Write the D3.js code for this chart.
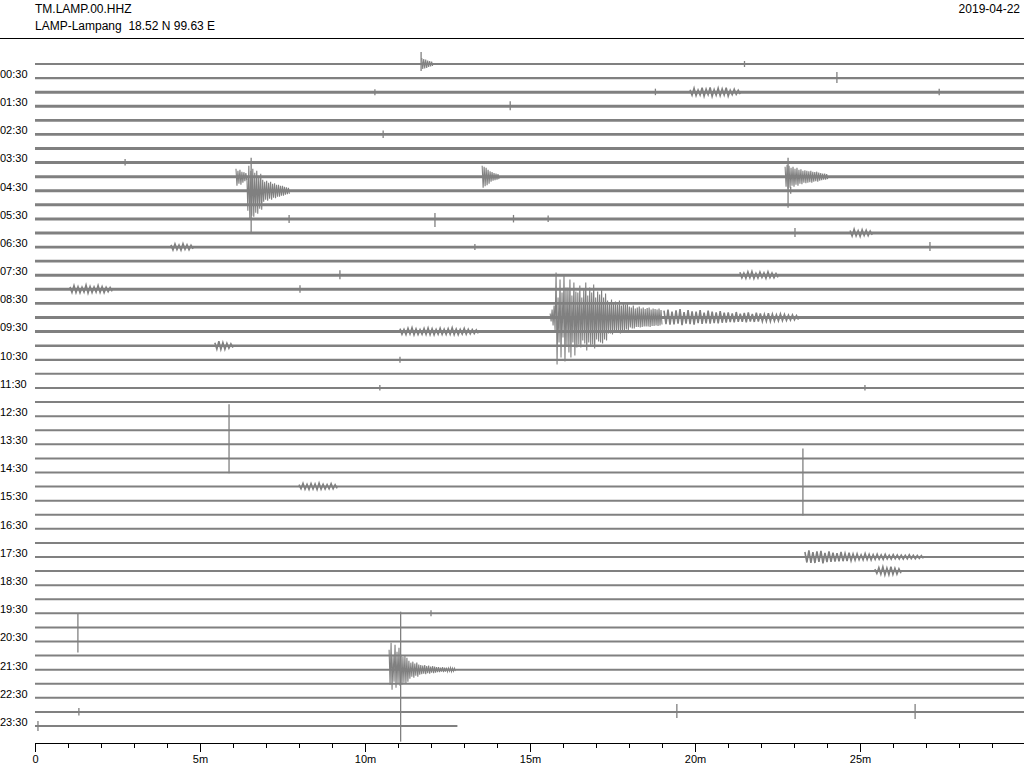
<!DOCTYPE html>
<html>
<head>
<meta charset="utf-8">
<script src="https://cdn.jsdelivr.net/npm/d3@7"></script>
<style>
  body { margin: 0; background: #fff; }
  text { font-family: "Liberation Sans", Arial, sans-serif; }
</style>
</head>
<body>
<div id="chart"></div>
<script>
// helicorder: one trace per 30 minutes, amplitudes in counts

var station = "TM.LAMP.00.HHZ",
    stationInfo = "LAMP-Lampang  18.52 N 99.63 E",
    day = "2019-04-22";

var rowLabels = ["00:30","01:30","02:30","03:30","04:30","05:30","06:30","07:30",
                 "08:30","09:30","10:30","11:30","12:30","13:30","14:30","15:30",
                 "16:30","17:30","18:30","19:30","20:30","21:30","22:30","23:30"];

var axisTicks = [0, 5, 10, 15, 20, 25];

// background noise level of each trace (half width, counts)
var baseNoise = [10,11,15,15,14,14,14,15,15,15,15,15,15,14,14,15,15,14,15,15,13,11,
                 10,10,10,10,10,10,10,10,10,10,10,10,10,10,10,10,10,10,10,10,10,10,10,10,10,10];

// the last trace stops here (minutes)
var lastTraceEnd = 12.8;

// single spikes: [row, minute, up, down]
var spikes = [
  [0, 11.70, 120, 70], [0, 21.50, 30, 30], [1, 24.30, 60, 50],
  [2, 10.30, 30, 30], [2, 18.80, 35, 30], [2, 27.40, 35, 30],
  [3, 14.40, 50, 40], [5, 10.55, 40, 35], [7, 2.73, 35, 30],
  [8, 22.82, 190, 310], [9, 6.55, 330, 420], [9, 22.90, 40, 30],
  [11, 7.70, 40, 40], [11, 12.12, 60, 80], [11, 14.50, 40, 35], [11, 15.55, 35, 30],
  [12, 23.03, 50, 40], [13, 13.33, 30, 30], [13, 27.12, 50, 40],
  [15, 9.24, 50, 40], [16, 8.03, 40, 35], [21, 11.06, 30, 30],
  [23, 10.45, 30, 25], [23, 25.15, 30, 25],
  [26, 5.88, 260, 430], [30, 23.27, 380, 290], [39, 12.00, 30, 30],
  [40, 1.30, 140, 250], [43, 11.08, 580, 720],
  [46, 1.33, 40, 35], [46, 19.45, 80, 60], [46, 26.67, 80, 70], [47, 0.09, 50, 50]
];

// bursts and earthquakes: start minute, sample step (s), peak up / down per sample
var bursts = [
  {row: 0, t0: 11.72, dt: 3.6, up: [60,50,45,35,30,25], dn: [50,45,40,30,25,20]},
  {row: 2, t0: 19.85, dt: 7.3, up: [25,40,22,45,30,48,26,40,33,45,20,30,18], dn: [30,35,28,40,25,42,30,35,28,40,25,22,20]},
  {row: 8, t0: 6.09, dt: 3.6, up: [80,60,70,50,45,35], dn: [90,70,80,60,45,35]},
  {row: 8, t0: 13.55, dt: 3.6, up: [110,100,90,70,55,45,35,30,25], dn: [110,95,85,70,50,40,35,30,25]},
  {row: 8, t0: 22.73, dt: 3.6, up: [100,120,110,90,100,80,90,70,75,60,65,60,55,60,50,45,50,40,35,30,30,25]},
  {row: 9, t0: 6.42, dt: 3.6,
   up: [150,250,200,220,180,200,150,170,110,90,100,80,90,70,75,60,60,50,50,40,35,30],
   dn: [200,280,250,260,220,230,180,190,110,90,100,80,90,70,75,60,60,50,50,40,35,30]},
  {row: 12, t0: 24.70, dt: 7.3, up: [25,38,22,32,28,20], dn: [30,28,35,24,26,18]},
  {row: 13, t0: 4.12, dt: 7.3, up: [22,32,20,34,24,18], dn: [28,24,30,22,26,18]},
  {row: 15, t0: 21.36, dt: 7.3, up: [30,22,34,38,20,32,24,34,22,18], dn: [26,30,24,32,28,22,30,24,26,20]},
  {row: 16, t0: 1.06, dt: 7.3, up: [25,38,26,22,42,28,24,38,26,20,18], dn: [30,32,34,28,36,32,28,30,32,22,20]},
  {row: 18, t0: 15.61, dt: 3.6,
   up: [40,80,120, 450,200,380,250,420,300, 300,380,220,350,260,
        250,320,200,280,350,220,300,250,330,200,260,230,280,200,240,
        170,150,180,140,160,130,170,120,150,130,140,
        110,100,120,90,100,110,90,100,85,95,100,80,90,85,80,90,75],
   dn: [40,80,130, 470,250,400,200,440,280, 350,400,250,380,300,
        270,300,230,260,330,250,280,270,310,220,240,250,260,220,230,
        160,160,170,150,150,140,160,130,140,120,130,
        100,110,110,95,95,100,95,90,90,90,95,85,85,80,85,80,70]},
  {row: 18, t0: 19.06, dt: 7.3,
   up: [70,80,60,72,85,55,74,62,58,75,50,68,60,52,64,48,
        52,42,55,38,46,52,36,48,40,32,44,34,28,36,30,24,26,20],
   dn: [65,72,68,60,75,62,66,70,55,64,58,60,56,58,52,50,
        46,48,44,42,48,40,44,40,38,36,38,34,32,30,28,26,22,20]},
  {row: 19, t0: 11.06, dt: 7.3, up: [30,22,34,38,26,20,32,36,28,22,34,24,30,38,26,22,32,24,20,18],
   dn: [26,30,24,32,30,26,28,30,32,26,28,28,26,30,30,24,26,22,20,18]},
  {row: 20, t0: 5.45, dt: 7.3, up: [30,44,32,24,18], dn: [34,38,36,26,20]},
  {row: 30, t0: 8.00, dt: 7.3, up: [20,32,22,30,26,34,22,20,28,18], dn: [22,26,28,24,30,26,24,22,22,18]},
  {row: 35, t0: 23.33, dt: 7.3,
   up: [50,65,48,55,62,40,56,44,38,50,36,42,30,32,22,34,26,24,28,20,26,18,24,20,18,16,22,16,15,14],
   dn: [55,58,60,48,64,50,48,46,44,42,40,38,32,28,28,26,30,24,22,24,20,22,18,20,20,18,16,18,14,14]},
  {row: 36, t0: 25.45, dt: 7.3, up: [20,34,42,30,44,28,22], dn: [24,30,38,36,34,30,22]},
  {row: 43, t0: 10.73, dt: 3.6,
   up: [200,270,150,250,180,220,150,130,140,120,90,70,80,60,70,
        50,45,40,45,35,40,30,35,30,25,25,20,25,20,20,15,20,15,15],
   dn: [150,200,120,180,140,160,150,130,140,120,90,70,80,60,70,
        50,45,40,45,35,40,30,35,30,25,25,20,25,20,20,15,20,15,15]}
];

var width = 1024,
    height = 768,
    traceColor = "#808080",
    nRows = baseNoise.length;

var svg = d3.select("#chart").append("svg")
    .attr("width", width)
    .attr("height", height);

// minutes within a trace -> x
var x = d3.scaleLinear().domain([0, 30]).range([35, 1025]);

// row index -> y of trace centre
var y = d3.scaleLinear().domain([0, nRows - 1]).range([64, 726]);

// counts -> pixels
var amp = d3.scaleLinear().domain([0, 100]).range([0, 10]);

// header
svg.append("text").attr("x", 35).attr("y", 13).style("font-size", "12px").text(station);
svg.append("text").attr("x", 35).attr("y", 30).style("font-size", "12px")
    .style("white-space", "pre").text(stationInfo);
svg.append("text").attr("x", 1020).attr("y", 13).attr("text-anchor", "end")
    .style("font-size", "12px").text(day);
svg.append("line").attr("x1", 0).attr("x2", width).attr("y1", 38.5).attr("y2", 38.5)
    .attr("stroke", "#000").attr("stroke-width", 1);

var traces = svg.append("g");

// noise bands
var band = d3.area()
    .x(function(d) { return x(d.t); })
    .y0(function(d) { return d.y + amp(d.a); })
    .y1(function(d) { return d.y - amp(d.a); });

baseNoise.forEach(function(a, i) {
  var end = i === nRows - 1 ? lastTraceEnd : 30;
  traces.append("path")
    .datum([{t: 0, y: y(i), a: a}, {t: end, y: y(i), a: a}])
    .attr("d", band)
    .attr("fill", traceColor);
});

// bursts drawn as a wiggle swinging between the up and down peaks
var wiggle = d3.line()
    .x(function(d) { return x(d.t); })
    .y(function(d) { return d.y; });

bursts.forEach(function(b) {
  var y0 = y(b.row), pts = [];
  b.up.forEach(function(u, k) {
    var dn = b.dn ? b.dn[k] : u;
    pts.push({t: b.t0 + k * b.dt / 60, y: y0 - amp(u)});
    pts.push({t: b.t0 + (k + 0.5) * b.dt / 60, y: y0 + amp(dn)});
  });
  traces.append("path")
    .datum(pts)
    .attr("d", wiggle)
    .attr("fill", "none")
    .attr("stroke", traceColor)
    .attr("stroke-width", b.dt > 5 ? 1.6 : 1.1);
});

// spikes
traces.selectAll("line.spike")
  .data(spikes)
  .enter()
  .append("line")
  .attr("class", "spike")
  .attr("x1", function(d) { return x(d[1]); })
  .attr("x2", function(d) { return x(d[1]); })
  .attr("y1", function(d) { return y(d[0]) - amp(d[2]); })
  .attr("y2", function(d) { return y(d[0]) + amp(d[3]); })
  .attr("stroke", traceColor)
  .attr("stroke-width", 1.3);

// hour labels on every other trace
svg.selectAll("text.rowlabel")
  .data(rowLabels)
  .enter()
  .append("text")
  .attr("class", "rowlabel")
  .attr("x", 0)
  .attr("y", function(d, i) { return y(2 * i + 1) - 4; })
  .attr("dy", "0.35em")
  .style("font-size", "11px")
  .text(function(d) { return d; });

// time axis
var axisG = svg.append("g").attr("transform", "translate(0,743)");

axisG.call(d3.axisBottom(x)
    .tickValues(d3.range(0, 30))
    .tickSize(5)
    .tickSizeOuter(0)
    .tickFormat(""));

axisG.append("g").call(d3.axisBottom(x)
    .tickValues(axisTicks)
    .tickSize(9)
    .tickSizeOuter(0)
    .tickFormat(function(d) { return d === 0 ? "0" : d + "m"; }));

axisG.selectAll("text").style("font-size", "11px").attr("fill", "#000")
    .style("font-family", "'Liberation Sans', Arial, sans-serif");
axisG.selectAll(".domain, line").attr("stroke", "#000");
</script>
</body>
</html>
